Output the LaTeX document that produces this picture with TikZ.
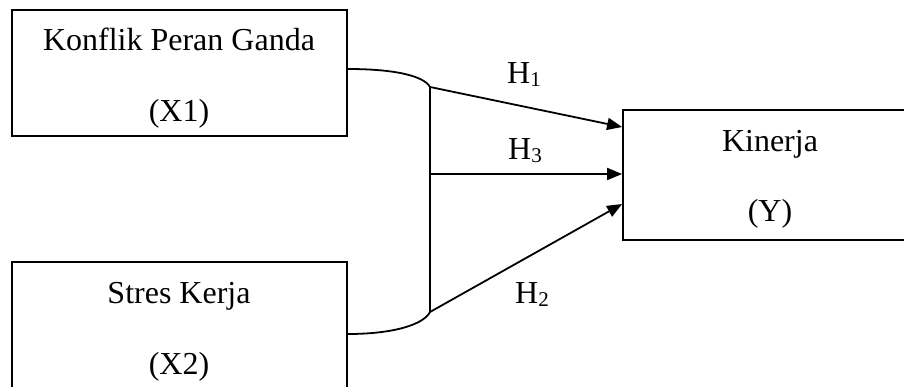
\documentclass[tikz,border=0pt]{standalone}
\usepackage{fontspec}
\setmainfont{Liberation Serif}
\usetikzlibrary{arrows.meta}
\newcommand{\hsub}[1]{H\raisebox{-3pt}{\fontsize{21}{21}\selectfont #1}}
\tikzset{
  box/.style={draw, line width=1.8pt, inner sep=0pt},
  lbl/.style={anchor=base, inner sep=0pt, font=\fontsize{32}{38}\selectfont},
  hl/.style={anchor=base west, inner sep=0pt, font=\fontsize{32}{38}\selectfont},
  conn/.style={line width=1.8pt},
  arr/.style={line width=1.8pt, -{Triangle[length=15pt,width=12pt]}}
}
\begin{document}
\begin{tikzpicture}[x=1pt,y=-1pt]
\useasboundingbox (0,0) rectangle (904,387);
\clip (0,0) rectangle (904,387);
% boxes
\node[box, minimum width=335pt, minimum height=126pt] (x1) at (179.5,73) {};
\node[box, minimum width=335pt, minimum height=160pt] (x2) at (179.5,342) {};
\node[box, minimum width=300pt, minimum height=130pt] (y) at (773,175) {};
% texts
\node[lbl] (x1a) at (179,51) {Konflik Peran Ganda};
\node[lbl] (x1b) at (179,122) {(X1)};
\node[lbl] (x2a) at (179,303) {Stres Kerja};
\node[lbl] (x2b) at (179,374) {(X2)};
\node[lbl] (ya) at (770,152) {Kinerja};
\node[lbl] (yb) at (770,222) {(Y)};
\node[hl] (h1) at (507,84) {\hsub{1}};
\node[hl] (h3) at (508,160) {\hsub{3}};
\node[hl] (h2) at (515,303) {\hsub{2}};
% junction coordinates
\coordinate (s1) at (x1.east |- 0,69);
\coordinate (s2) at (x2.east |- 0,334);
\coordinate (j1) at (430,87);
\coordinate (j2) at (430,174);
\coordinate (j3) at (430,312);
\coordinate (t1) at (y.west |- 0,127);
\coordinate (t2) at (y.west |- 0,174);
\coordinate (t3) at (y.west |- 0,204);
% connectors
\draw[conn] (s1) .. controls (395,69) and (424,76) .. (j1);
\draw[conn] (s2) .. controls (395,334) and (424,324) .. (j3);
\draw[conn] (j1) -- (j3);
\draw[arr] (j1) -- (t1);
\draw[arr] (j2) -- (t2);
\draw[arr] (j3) -- (t3);
\end{tikzpicture}
\end{document}
